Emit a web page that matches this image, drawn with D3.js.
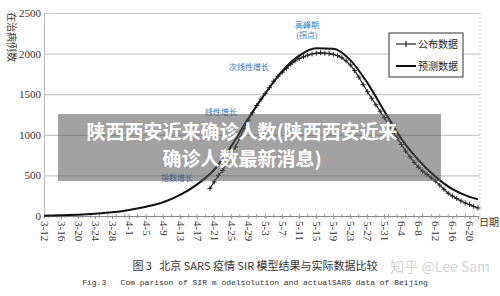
<!DOCTYPE html>
<html>
<head>
<meta charset="utf-8">
<script src="https://cdn.jsdelivr.net/npm/d3@7"></script>
<style>
  body { margin: 0; background: #fff; }
  svg { display: block; }
</style>
</head>
<body>
<div id="chart"></div>
<script>
var w = 500;
var h = 296;

// model curve (SIR) - date, value
var modelDates = ["3-12", "3-16", "3-20", "3-24", "3-28", "4-1", "4-5", "4-9", "4-13", "4-17",
    "4-21", "4-25", "4-29", "5-3", "5-7", "5-11", "5-15", "5-19", "5-23", "5-27",
    "5-31", "6-4", "6-8", "6-12", "6-16", "6-20", "6-22"];
var modelValues = [2, 8, 16, 28, 45, 75, 115, 170, 260, 390,
    570, 860, 1200, 1510, 1785, 1975, 2065, 2060, 1920, 1640,
    1290, 950, 690, 485, 330, 235, 205];

// published data, one value per day starting 4-20
var actualStart = "4-20";
var actualValues = [340, 420, 500, 560, 660, 760, 850, 960, 1080, 1180,
    1270, 1360, 1440, 1510, 1580, 1660, 1720, 1770, 1820, 1870,
    1910, 1940, 1960, 1980, 1995, 2005, 2010, 2005, 2000, 1990,
    1975, 1950, 1910, 1860, 1790, 1710, 1620, 1530, 1450, 1370,
    1290, 1210, 1120, 1040, 960, 880, 800, 730, 660, 600,
    550, 510, 470, 430, 380, 330, 280, 245, 215, 185,
    160, 140, 118, 99];

var tickLabels = ["3-12", "3-16", "3-20", "3-24", "3-28", "4-1", "4-5", "4-9", "4-13", "4-17",
    "4-21", "4-25", "4-29", "5-3", "5-7", "5-11", "5-15", "5-19", "5-23", "5-27",
    "5-31", "6-4", "6-8", "6-12", "6-16", "6-20"];
var yTicks = [0, 500, 1000, 1500, 2000, 2500];

var parse = function (s) { return d3.timeParse("%Y-%m-%d")("2003-" + s); };

var x = d3.scaleTime()
    .domain([parse("3-12"), parse("6-22")])
    .range([44, 478]);
var y = d3.scaleLinear()
    .domain([0, 2500])
    .range([216, 13]);

var svg = d3.select("#chart")
    .append("svg")
    .attr("width", w)
    .attr("height", h);

var serif = "'Liberation Serif', 'DejaVu Serif', serif";
var cjk = "'Noto Sans CJK SC', sans-serif";
var blue = "#3574b4";

// gridlines + y axis
var yAxis = svg.append("g")
    .attr("transform", "translate(44,0)")
    .call(d3.axisLeft(y).tickValues(yTicks).tickSize(-436).tickPadding(3).tickFormat(d3.format("d")));
yAxis.select(".domain").attr("stroke", "#bbb");
yAxis.selectAll(".tick line").attr("stroke", "#c8c8c8").attr("stroke-width", 1.2);
yAxis.selectAll(".tick text")
    .style("font-family", serif)
    .style("font-size", "11px")
    .attr("fill", "#333");

// right border
svg.append("line")
    .attr("x1", 480).attr("x2", 480)
    .attr("y1", y(2500)).attr("y2", y(0))
    .attr("stroke", "#ccc")
    .attr("stroke-dasharray", "2,2");

// x axis
var xAxis = svg.append("g")
    .attr("transform", "translate(0," + y(0) + ")")
    .call(d3.axisBottom(x)
        .tickValues(tickLabels.map(parse))
        .tickSize(3)
        .tickFormat(d3.timeFormat("%-m-%-d")));
xAxis.select(".domain").attr("stroke", "#888");
xAxis.selectAll(".tick line").attr("stroke", "#888");
xAxis.selectAll(".tick text")
    .attr("transform", "rotate(90)")
    .attr("x", 5)
    .attr("y", 0)
    .attr("dy", "0.35em")
    .style("text-anchor", "start")
    .style("font-family", serif)
    .style("font-size", "11px")
    .attr("fill", "#333");

// minor ticks every 2 days
svg.append("g")
    .selectAll("line")
    .data(d3.timeDay.every(2).range(parse("3-12"), parse("6-23")))
    .enter()
    .append("line")
    .attr("x1", function (d) { return x(d); })
    .attr("x2", function (d) { return x(d); })
    .attr("y1", y(0) - 2)
    .attr("y2", y(0) + 2)
    .attr("stroke", "#999");

// model curve
var modelData = modelDates.map(function (d, i) { return { date: parse(d), value: modelValues[i] }; });
var line = d3.line()
    .x(function (d) { return x(d.date); })
    .y(function (d) { return y(d.value); })
    .curve(d3.curveMonotoneX);

svg.append("path")
    .datum(modelData)
    .attr("fill", "none")
    .attr("stroke", "#111")
    .attr("stroke-width", 2)
    .attr("d", line);

// published data
var start = parse(actualStart);
var actualData = actualValues.map(function (v, i) { return { date: d3.timeDay.offset(start, i), value: v }; });

svg.append("path")
    .datum(actualData)
    .attr("fill", "none")
    .attr("stroke", "#222")
    .attr("stroke-width", 1.2)
    .attr("d", d3.line()
        .x(function (d) { return x(d.date); })
        .y(function (d) { return y(d.value); }));

svg.append("g")
    .selectAll("path")
    .data(actualData)
    .enter()
    .append("path")
    .attr("d", function (d) {
        var cx = x(d.date), cy = y(d.value);
        return "M" + (cx - 2.5) + "," + cy + "H" + (cx + 2.5) + "M" + cx + "," + (cy - 2.5) + "V" + (cy + 2.5);
    })
    .attr("stroke", "#222")
    .attr("stroke-width", 1);

// annotations
var notes = [
    { t: "高峰期", x: 307, y: 25 },
    { t: "(拐点)", x: 307, y: 35 },
    { t: "次线性增长", x: 249, y: 67 },
    { t: "线性增长", x: 221, y: 112 },
    { t: "指数增长", x: 177, y: 178 }
];
svg.append("g")
    .selectAll("text")
    .data(notes)
    .enter()
    .append("text")
    .attr("x", function (d) { return d.x; })
    .attr("y", function (d) { return d.y; })
    .attr("dy", "0.35em")
    .attr("text-anchor", "middle")
    .style("font-family", cjk)
    .style("font-size", "8px")
    .attr("fill", blue)
    .text(function (d) { return d.t; });

// legend
var legend = svg.append("g").attr("transform", "translate(389,33)");
legend.append("rect")
    .attr("width", 74).attr("height", 44)
    .attr("fill", "#fff")
    .attr("stroke", "#333")
    .attr("stroke-width", 1);
legend.append("line")
    .attr("x1", 7).attr("x2", 27).attr("y1", 11).attr("y2", 11)
    .attr("stroke", "#222").attr("stroke-width", 1.2);
legend.append("line")
    .attr("x1", 17).attr("x2", 17).attr("y1", 8).attr("y2", 14)
    .attr("stroke", "#222").attr("stroke-width", 1.2);
legend.append("line")
    .attr("x1", 7).attr("x2", 27).attr("y1", 33).attr("y2", 33)
    .attr("stroke", "#111").attr("stroke-width", 2);
legend.selectAll(".ltext")
    .data(["公布数据", "预测数据"])
    .enter()
    .append("text")
    .attr("class", "ltext")
    .attr("x", 29)
    .attr("y", function (d, i) { return 11 + i * 22; })
    .attr("dy", "0.35em")
    .style("font-family", cjk)
    .style("font-size", "10px")
    .attr("fill", "#222")
    .text(function (d) { return d; });

// axis titles
svg.append("text")
    .attr("transform", "translate(11,37) rotate(90)")
    .attr("text-anchor", "middle")
    .attr("dy", "0.35em")
    .style("font-family", cjk)
    .style("font-size", "10px")
    .attr("fill", "#333")
    .text("在治病例数");
svg.append("text")
    .attr("x", 479).attr("y", 226)
    .style("font-family", cjk)
    .style("font-size", "10px")
    .attr("fill", "#333")
    .text("日期");

// captions
svg.append("text")
    .attr("x", 255).attr("y", 270)
    .attr("text-anchor", "middle")
    .style("font-family", cjk)
    .style("font-size", "11px")
    .style("white-space", "pre")
    .attr("fill", "#333")
    .text("图 3   北京 SARS 疫情 SIR 模型结果与实际数据比较");
svg.append("text")
    .attr("x", 255).attr("y", 285)
    .attr("text-anchor", "middle")
    .style("font-family", "'Liberation Mono', monospace")
    .style("font-size", "8px")
    .style("white-space", "pre")
    .attr("fill", "#333")
    .text("Fig.3   Com parison of SIR m odelsolution and actualSARS data of Beijing");

// watermark
svg.append("text")
    .attr("x", 490).attr("y", 272)
    .attr("text-anchor", "end")
    .style("font-family", "'Noto Sans CJK SC', sans-serif")
    .style("font-size", "14px")
    .attr("fill", "#ccc")
    .attr("opacity", 0.85)
    .text("知乎 @Lee Sam");

// title banner
svg.append("rect")
    .attr("x", 58).attr("y", 114)
    .attr("width", 383).attr("height", 67)
    .attr("fill", "#555")
    .attr("opacity", 0.55);
svg.selectAll(".banner")
    .data(["陕西西安近来确诊人数(陕西西安近来", "确诊人数最新消息)"])
    .enter()
    .append("text")
    .attr("class", "banner")
    .attr("x", 242)
    .attr("y", function (d, i) { return 132 + i * 27; })
    .attr("dy", "0.35em")
    .attr("text-anchor", "middle")
    .style("font-family", cjk)
    .style("font-size", "19px")
    .style("font-weight", "bold")
    .attr("fill", "#fff")
    .text(function (d) { return d; });
</script>
</body>
</html>
